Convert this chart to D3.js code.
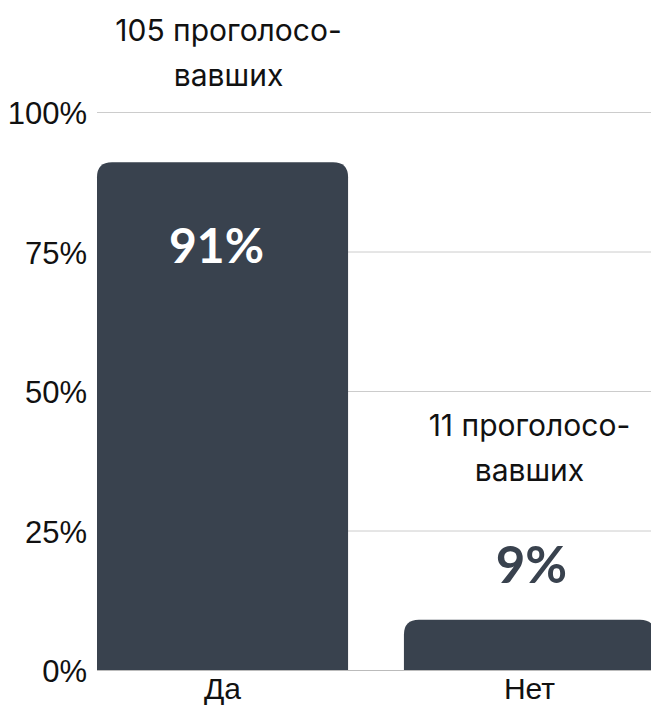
<!DOCTYPE html>
<html><head><meta charset="utf-8">
<script src="https://cdn.jsdelivr.net/npm/d3@7"></script>
<style>body{margin:0;background:#fff}</style>
</head><body>
<svg id="c" width="651" height="705"></svg>
<script>
const categories = ["Да", "Нет"];
const values = [91, 9];
const votes = ["105 проголосо-|вавших", "11 проголосо-|вавших"];
const yTicks = [0, 25, 50, 75, 100];

const W = 651, H = 705;
const svg = d3.select("#c");
const x = d3.scaleBand().domain(categories).range([97, 655]).paddingInner(0.182).paddingOuter(0);
const y = d3.scaleLinear().domain([0, 100]).range([670, 112]);
const barColor = "#39424e";

// grid
svg.append("g").selectAll("line").data(yTicks).join("line")
  .attr("x1", 97).attr("x2", W)
  .attr("y1", d => y(d) + 0.5).attr("y2", d => y(d) + 0.5)
  .attr("stroke", "#cccccc").attr("stroke-width", 1);

// y labels
svg.append("g").selectAll("text").data(yTicks).join("text")
  .attr("x", 87).attr("y", d => y(d) + 1)
  .attr("dy", "0.36em").attr("text-anchor", "end")
  .attr("font-family", "Liberation Sans, Arial, sans-serif").attr("font-size", 31)
  .attr("fill", "#111").text(d => d + "%");

// bars with rounded top
const r = 15;
function barPath(x0, w, yTop, yBot) {
  const rr = Math.min(r, (yBot - yTop));
  return `M${x0},${yBot}V${yTop + rr}Q${x0},${yTop} ${x0 + rr},${yTop}H${x0 + w - rr}Q${x0 + w},${yTop} ${x0 + w},${yTop + rr}V${yBot}Z`;
}
svg.append("g").selectAll("path").data(categories).join("path")
  .attr("d", (c, i) => barPath(x(c), x.bandwidth(), y(values[i]), y(0)))
  .attr("fill", barColor);

// baseline
svg.append("line").attr("x1", 97).attr("x2", W).attr("y1", y(0) + 0.5).attr("y2", y(0) + 0.5)
  .attr("stroke", "#bbbbbb");

// category labels
svg.append("g").selectAll("text").data(categories).join("text")
  .attr("x", c => x(c) + x.bandwidth() / 2).attr("y", 699)
  .attr("text-anchor", "middle")
  .attr("font-family", "Liberation Sans, Arial, sans-serif").attr("font-size", 30)
  .attr("fill", "#111").text(c => c);

// value labels and vote annotations
categories.forEach((c, i) => {
  const cx = x(c) + x.bandwidth() / 2;
  const top = y(values[i]);
  const inside = (y(0) - top) > 150;
  const pctY = inside ? top + 83 : top - 55;
  svg.append("text").attr("x", cx - (inside ? 6 : -2)).attr("y", pctY).attr("dy", "0.36em")
    .attr("text-anchor", "middle")
    .attr("font-family", "Lato, sans-serif").attr("font-weight", 700).attr("font-size", inside ? 48 : 51)
    .attr("fill", inside ? "#ffffff" : barColor).text(values[i] + "%");
  const lines = votes[i].split("|");
  const lastY = inside ? top - 87 : pctY - 95;
  lines.forEach((ln, j) => {
    svg.append("text").attr("x", cx + (inside ? 6 : 0)).attr("y", lastY - (lines.length - 1 - j) * 45)
      .attr("dy", "0.36em").attr("text-anchor", "middle")
      .attr("font-family", "Inter, sans-serif").attr("font-size", 30)
      .attr("fill", "#111").text(ln);
  });
});
</script>
</body></html>
